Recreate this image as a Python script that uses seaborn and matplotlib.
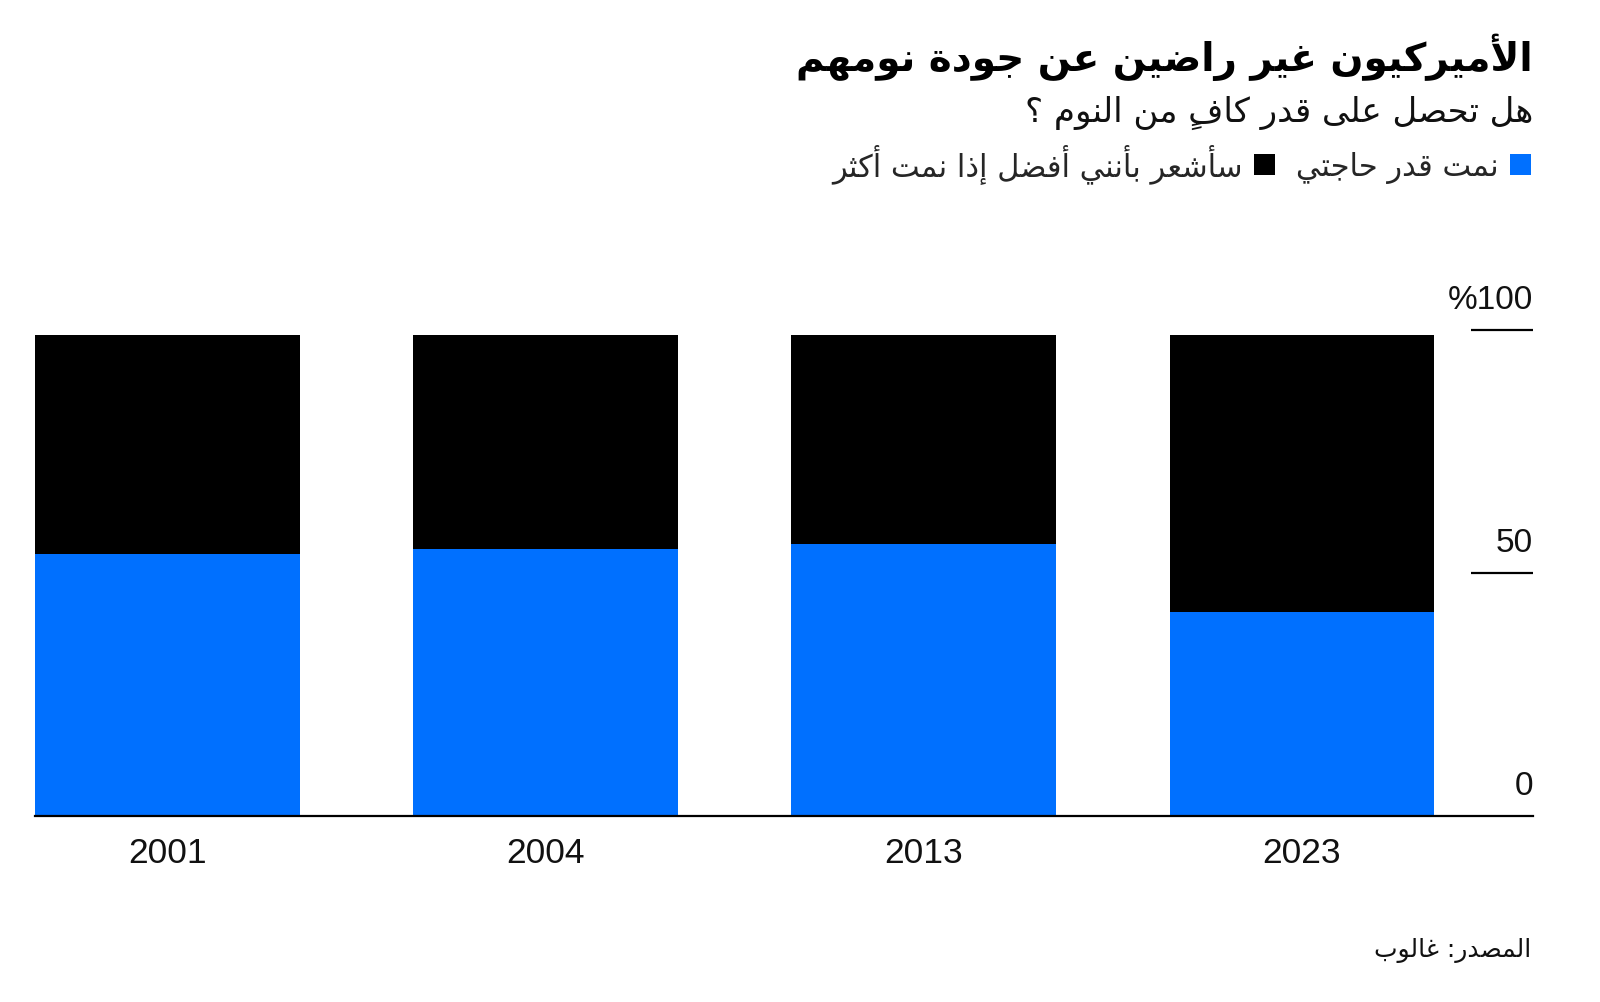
import matplotlib
matplotlib.use("Agg")
import matplotlib.pyplot as plt
from matplotlib.patches import Patch
import seaborn as sns
import pandas as pd

# Data (Gallup), values in percent
years = ['2001', '2004', '2013', '2023']
slept_enough = [54, 55, 56, 42]
want_more = [45, 44, 43, 57]

y_ticks = [0, 50, 100]
y_tick_labels = ['0', '50', '%100']

title = 'الأميركيون غير راضين عن جودة نومهم'
subtitle = 'هل تحصل على قدر كافٍ من النوم ؟'
label_enough = 'نمت قدر حاجتي'
label_more = 'سأشعر بأنني أفضل إذا نمت أكثر'
source = 'المصدر: غالوب'

BLUE = '#0070ff'
BLACK = '#000000'

# matplotlib has no Arabic shaping, so map letters to presentation forms
# and reverse into visual order
DUAL = {'ئ': 0xFE89, 'ب': 0xFE8F, 'ت': 0xFE95, 'ث': 0xFE99, 'ج': 0xFE9D, 'ح': 0xFEA1,
        'خ': 0xFEA5, 'س': 0xFEB1, 'ش': 0xFEB5, 'ص': 0xFEB9, 'ض': 0xFEBD, 'ط': 0xFEC1,
        'ظ': 0xFEC5, 'ع': 0xFEC9, 'غ': 0xFECD, 'ف': 0xFED1, 'ق': 0xFED5, 'ك': 0xFED9,
        'ل': 0xFEDD, 'م': 0xFEE1, 'ن': 0xFEE5, 'ه': 0xFEE9, 'ي': 0xFEF1}
RIGHT = {'آ': 0xFE81, 'أ': 0xFE83, 'ؤ': 0xFE85, 'إ': 0xFE87, 'ا': 0xFE8D, 'ة': 0xFE93,
         'د': 0xFEA9, 'ذ': 0xFEAB, 'ر': 0xFEAD, 'ز': 0xFEAF, 'و': 0xFEED, 'ى': 0xFEEF}
LAMALEF = {'آ': 0xFEF5, 'أ': 0xFEF7, 'إ': 0xFEF9, 'ا': 0xFEFB}
MARKS = set(chr(c) for c in range(0x064B, 0x0653))


def shape(text):
    chars = list(text)
    n = len(chars)
    res = []
    prev_join = False
    i = 0
    while i < n:
        c = chars[i]
        if c in MARKS:
            res.append(c)
            i += 1
            continue
        j = i + 1
        while j < n and chars[j] in MARKS:
            j += 1
        nxt = chars[j] if j < n else ''
        if c == 'ل' and nxt in LAMALEF:
            res.append(chr(LAMALEF[nxt] + (1 if prev_join else 0)))
            res.extend(chars[i + 1:j])
            prev_join = False
            i = j + 1
            continue
        if c in DUAL:
            a, b = prev_join, (nxt in DUAL or nxt in RIGHT)
            res.append(chr(DUAL[c] + (3 if a and b else 1 if a else 2 if b else 0)))
            prev_join = True
        elif c in RIGHT:
            res.append(chr(RIGHT[c] + (1 if prev_join else 0)))
            prev_join = False
        else:
            res.append(c)
            prev_join = False
        i += 1
    # group marks with their letter; mark goes first so it lands over the letter
    clusters = []
    for ch in res:
        if ch in MARKS and clusters:
            clusters[-1] = ch + clusters[-1]
        else:
            clusters.append(ch)
    return ''.join(reversed(clusters))


df = pd.DataFrame({'year': years, 'enough': slept_enough, 'more': want_more})
df['total'] = df['enough'] + df['more']

sns.set_theme(style='white')
plt.rcParams['font.family'] = ['DejaVu Sans']

fig = plt.figure(figsize=(16, 10.03), dpi=100)
ax = fig.add_axes([0.0217, 0.185, 0.9363, 0.485])

sns.barplot(data=df, x='year', y='total', color=BLACK, width=0.7, errorbar=None,
            saturation=1, ax=ax, linewidth=0)
sns.barplot(data=df, x='year', y='enough', color=BLUE, width=0.7, errorbar=None,
            saturation=1, ax=ax, linewidth=0)

ax.set_xlim(-0.35, 3.61)
ax.set_ylim(0, 100)
ax.set_xlabel('')
ax.set_ylabel('')
ax.set_yticks([])
for s in ['top', 'right', 'left']:
    ax.spines[s].set_visible(False)
ax.spines['bottom'].set_color('black')
ax.spines['bottom'].set_linewidth(1.6)
ax.tick_params(axis='x', length=0, pad=14)
for lab in ax.get_xticklabels():
    lab.set_fontfamily('Liberation Sans')
    lab.set_fontsize(25.5)
    lab.set_color('#111111')

# right-hand tick marks and labels
ytr = ax.get_yaxis_transform()
for v, lab in zip(y_ticks, y_tick_labels):
    if v > 0:
        ax.plot([0.959, 1.0], [v, v], transform=ytr, color='black', lw=1.6,
                clip_on=False, solid_capstyle='butt')
    ax.annotate(lab, xy=(1.0, v), xycoords=ytr, xytext=(0, 16), textcoords='offset points',
                ha='right', va='baseline', fontsize=24, family='Liberation Sans',
                color='#111111')

fig.text(0.958, 0.943, shape(title), ha='right', va='center', fontsize=28,
         fontweight='bold', color='black')
fig.text(0.958, 0.887, shape(subtitle), ha='right', va='center', fontsize=24.5,
         color='#111111')
fig.text(0.957, 0.052, shape(source), ha='right', va='center', fontsize=18,
         color='#111111')

handles = [Patch(facecolor=BLACK, edgecolor='none'), Patch(facecolor=BLUE, edgecolor='none')]
fig.legend(handles, [shape(label_more), shape(label_enough)], ncol=2, markerfirst=False,
           loc='center right', bbox_to_anchor=(0.957, 0.836), frameon=False,
           fontsize=22, handlelength=0.7, handleheight=0.7, handletextpad=0.35,
           columnspacing=0.7, borderaxespad=0, borderpad=0)

fig.savefig('out.png', dpi=100, facecolor='white')
